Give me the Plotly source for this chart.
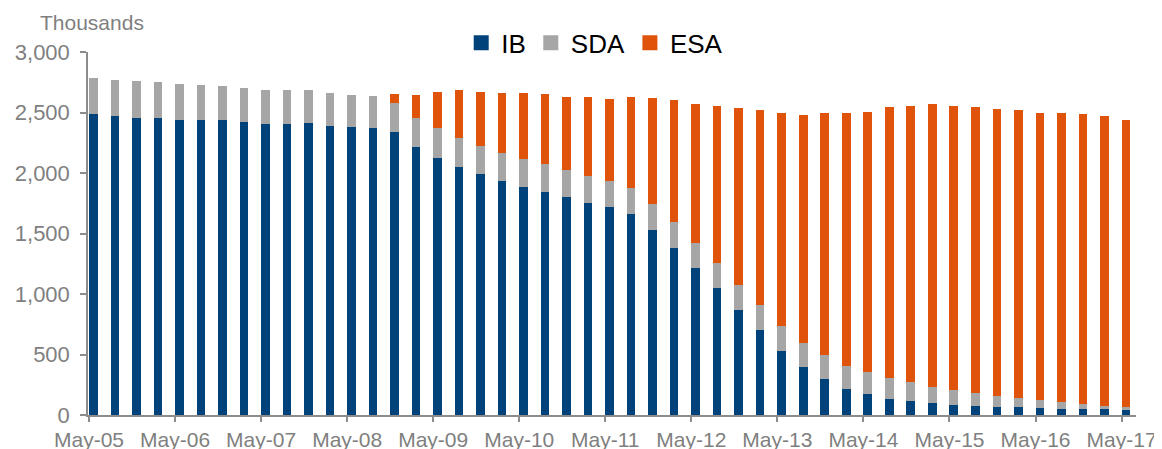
import plotly.graph_objects as go

quarters = [
    "May-05", "Aug-05", "Nov-05", "Feb-06",
    "May-06", "Aug-06", "Nov-06", "Feb-07",
    "May-07", "Aug-07", "Nov-07", "Feb-08",
    "May-08", "Aug-08", "Nov-08", "Feb-09",
    "May-09", "Aug-09", "Nov-09", "Feb-10",
    "May-10", "Aug-10", "Nov-10", "Feb-11",
    "May-11", "Aug-11", "Nov-11", "Feb-12",
    "May-12", "Aug-12", "Nov-12", "Feb-13",
    "May-13", "Aug-13", "Nov-13", "Feb-14",
    "May-14", "Aug-14", "Nov-14", "Feb-15",
    "May-15", "Aug-15", "Nov-15", "Feb-16",
    "May-16", "Aug-16", "Nov-16", "Feb-17",
    "May-17",
]

tick_labels = ["May-05", "May-06", "May-07", "May-08", "May-09", "May-10",
               "May-11", "May-12", "May-13", "May-14", "May-15", "May-16", "May-17"]

ib = [2486, 2469, 2458, 2458, 2442, 2442, 2434, 2425, 2409, 2409, 2414, 2392,
      2378, 2376, 2335, 2216, 2120, 2051, 1988, 1933, 1886, 1845, 1798, 1751,
      1716, 1658, 1529, 1378, 1213, 1048, 869, 704, 530, 399, 300, 217,
      170, 134, 112, 96, 82, 71, 66, 63, 55, 52, 50, 46, 41]

sda = [303, 303, 300, 294, 291, 285, 283, 281, 280, 277, 275, 273,
       264, 261, 247, 242, 248, 242, 236, 234, 228, 228, 226, 226,
       220, 220, 217, 217, 208, 208, 208, 206, 206, 198, 197, 187,
       182, 174, 157, 137, 121, 107, 93, 77, 65, 52, 37, 31, 25]

esa = [0, 0, 0, 0, 0, 0, 0, 0, 0, 0, 0, 0,
       0, 0, 71, 190, 302, 391, 443, 495, 545, 580, 608, 649,
       679, 748, 872, 1009, 1147, 1301, 1464, 1609, 1758, 1880, 1997, 2093,
       2156, 2235, 2285, 2335, 2351, 2365, 2373, 2379, 2380, 2393, 2399, 2390, 2370]

series = [("IB", ib, "#00427A"), ("SDA", sda, "#A6A6A6"), ("ESA", esa, "#E0530A")]

FONT = "Liberation Sans, Arial, sans-serif"
GREY = "#7F7F7F"
AXIS = "#8C8C8C"

fig = go.Figure()
for name, vals, col in series:
    fig.add_trace(go.Bar(
        x=quarters, y=vals, name=name, legendgroup=name, showlegend=False,
        marker=dict(color=col, line=dict(width=0)),
        width=0.4, offset=0,
    ))
# legend proxies (larger square symbols, like the reference)
for name, vals, col in series:
    fig.add_trace(go.Scatter(
        x=[None], y=[None], name=name, legendgroup=name, mode="markers",
        marker=dict(symbol="square", size=15, color=col),
        showlegend=True, hoverinfo="skip",
    ))

fig.update_layout(
    width=1154, height=441,
    barmode="stack",
    margin=dict(l=80, r=26, t=44, b=34, autoexpand=False),
    paper_bgcolor="white", plot_bgcolor="white",
    font=dict(family=FONT, color=GREY, size=21),
    showlegend=True,
    legend=dict(
        orientation="h", x=0.4835, xanchor="center", y=1.025, yanchor="middle",
        font=dict(size=26, color="#000000", family=FONT),
        itemwidth=30, traceorder="normal", bgcolor="rgba(0,0,0,0)",
        itemsizing="trace", tracegroupgap=0,
    ),
    xaxis=dict(
        type="category", categoryorder="array", categoryarray=quarters,
        range=[-0.047, 48.67],
        tickmode="array", tickvals=tick_labels, ticktext=tick_labels,
        showline=True, linecolor=AXIS, linewidth=1.5,
        ticks="outside", ticklen=5, tickcolor=AXIS, tickwidth=1.5,
        ticklabelstandoff=0,
        tickfont=dict(size=21, color=GREY, family=FONT),
        showgrid=False, zeroline=False, fixedrange=True,
    ),
    yaxis=dict(
        range=[0, 3000], tickmode="array",
        tickvals=[0, 500, 1000, 1500, 2000, 2500, 3000],
        tickformat=",",
        showline=True, linecolor=AXIS, linewidth=1.5,
        ticks="outside", ticklen=6, tickcolor=AXIS, tickwidth=1.5,
        ticklabelstandoff=6,
        tickfont=dict(size=22, color=GREY, family=FONT),
        showgrid=False, zeroline=False, fixedrange=True,
    ),
    annotations=[dict(
        text="Thousands", xref="paper", yref="paper",
        x=-0.0477, y=1.082, xanchor="left", yanchor="middle",
        showarrow=False, font=dict(size=21, color=GREY, family=FONT),
    )],
)

fig.write_html("out.html")
